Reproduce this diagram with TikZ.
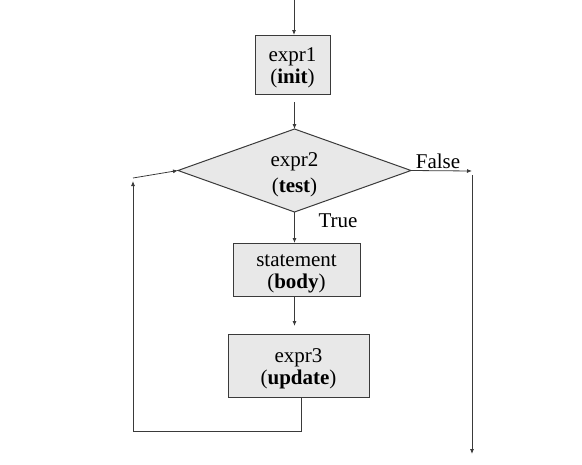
\documentclass[tikz,border=0pt]{standalone}
\usepackage{fontspec}
\setmainfont{Liberation Serif}
\usetikzlibrary{shapes.geometric,arrows.meta}
\definecolor{boxfill}{HTML}{E8E8E8}
\definecolor{ink}{HTML}{3A3A3A}
\begin{document}
\begin{tikzpicture}[x=1pt,y=-1pt,
  every node/.style={font=\fontsize{21}{22}\selectfont, text=black},
  box/.style={draw=ink, line width=1pt, fill=boxfill, rectangle, align=center, inner sep=0pt, outer sep=0pt, text height=39pt, text depth=2pt},
  dia/.style={draw=ink, line width=1pt, fill=boxfill, diamond, aspect=2.8, align=center, inner sep=0pt, outer sep=0pt, font=\fontsize{21}{26}\selectfont, text height=45pt, text depth=2pt},
  arr/.style={draw=ink, line width=0.8pt, -{Latex[length=5pt,width=4pt]}}]
\useasboundingbox (0,0) rectangle (582,464);
\node[box, minimum width=75pt, minimum height=59pt] (init) at (292.5,64.5) {expr1\\(\textbf{init})};
\node[dia, minimum width=233pt, minimum height=83pt] (test) at (294.5,170.5) {expr2\\(\textbf{test})};
\node[box, minimum width=127pt, minimum height=53pt] (body) at (296.5,269.5) {statement\\(\textbf{body})};
\node[box, minimum width=141pt, minimum height=63pt] (update) at (298.5,365.5) {expr3\\(\textbf{update})};
\node[anchor=base] (false) at (438,168) {False};
\node[anchor=base] (true) at (338,227) {True};
\coordinate (top) at (294,0);
\coordinate (bl) at (133,431);
\coordinate (loopend) at (133,181);
\coordinate (loopstart) at (133,178);
\coordinate (fend) at (472,171);
\coordinate (fdown) at (472,175);
\coordinate (fbottom) at (472,454);
\draw[arr] (top) -- (init.north -| top);
\draw[arr] ([yshift=-8pt]init.south -| test.north) -- (test.north);
\draw[arr] (test.south) -- (body.north -| test.south);
\draw[arr] (body.south -| test.south) -- ([yshift=8pt]update.north -| test.south);
\draw[arr] ([xshift=2.5pt]update.south) |- (bl) -- (loopend);
\draw[arr] (loopstart) -- (test.west);
\draw[arr] (test.east) -- (fend);
\draw[arr] (fdown) -- (fbottom);
\end{tikzpicture}
\end{document}
